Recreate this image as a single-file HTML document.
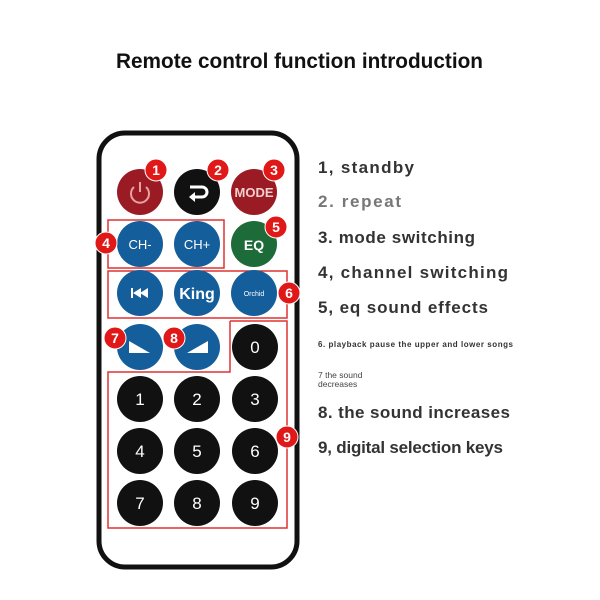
<!DOCTYPE html>
<html><head><meta charset="utf-8"><style>
body{margin:0;background:#fff;}
svg{display:block;font-family:"Liberation Sans",sans-serif;}
</style></head><body>
<svg width="600" height="600" viewBox="0 0 600 600" xmlns="http://www.w3.org/2000/svg">
<rect width="600" height="600" fill="#fff"/>
<text x="116" y="68" font-size="21" font-weight="bold" fill="#111" textLength="367" lengthAdjust="spacingAndGlyphs">Remote control function introduction</text>
<rect x="99" y="133" width="198" height="434" rx="26" fill="#fff" stroke="#111" stroke-width="5"/>
<g fill="none" stroke="#d33" stroke-width="1.5">
<rect x="108" y="220" width="116" height="48"/>
<rect x="108" y="271" width="179" height="47"/>
<polyline points="230,321 287,321 287,528 108,528 108,372 230,372 230,321"/>
</g>
<g>
<circle cx="140" cy="192" r="23" fill="#9b1b24"/>
<circle cx="197" cy="192" r="23" fill="#111"/>
<circle cx="254" cy="192" r="23" fill="#9b1b24"/>
<circle cx="140" cy="244" r="23" fill="#145e9b"/>
<circle cx="197" cy="244" r="23" fill="#145e9b"/>
<circle cx="254" cy="244" r="23" fill="#1e6b3a"/>
<circle cx="140" cy="293" r="23" fill="#145e9b"/>
<circle cx="197" cy="293" r="23" fill="#145e9b"/>
<circle cx="254" cy="293" r="23" fill="#145e9b"/>
<circle cx="140" cy="347" r="23" fill="#145e9b"/>
<circle cx="197" cy="347" r="23" fill="#145e9b"/>
<circle cx="255" cy="347" r="23" fill="#111"/>
<circle cx="140" cy="399" r="23" fill="#111"/>
<circle cx="197" cy="399" r="23" fill="#111"/>
<circle cx="255" cy="399" r="23" fill="#111"/>
<circle cx="140" cy="451" r="23" fill="#111"/>
<circle cx="197" cy="451" r="23" fill="#111"/>
<circle cx="255" cy="451" r="23" fill="#111"/>
<circle cx="140" cy="503" r="23" fill="#111"/>
<circle cx="197" cy="503" r="23" fill="#111"/>
<circle cx="255" cy="503" r="23" fill="#111"/>
</g>
<path d="M134,187 A9,9 0 1 0 146,187" fill="none" stroke="#e8a0a0" stroke-width="2"/>
<line x1="140" y1="182" x2="140" y2="192" stroke="#e8a0a0" stroke-width="2"/>
<path d="M190,187 H202 A5,5 0 0 1 202,197 H192" fill="none" stroke="#fff" stroke-width="3"/>
<polygon points="189,197 195,192 195,202" fill="#fff"/>
<polygon points="131,288 133,288 133,298 131,298" fill="#fff"/>
<polygon points="133,293 141,288 141,298" fill="#fff"/>
<polygon points="140,293 148,288 148,298" fill="#fff"/>
<polygon points="129,341 129,353 150,353" fill="#fff"/>
<polygon points="208,341 208,353 187,353" fill="#fff"/>
<g fill="#fff" text-anchor="middle" font-weight="bold">
<text x="254" y="197" font-size="13" fill="#f2d0d0">MODE</text>
<text x="140" y="249" font-size="13" font-weight="normal">CH-</text>
<text x="197" y="249" font-size="13" font-weight="normal">CH+</text>
<text x="254" y="250" font-size="14">EQ</text>
<text x="197" y="299" font-size="16">King</text>
<text x="254" y="296" font-size="7" font-weight="normal">Orchid</text>
</g>
<g fill="#fff" text-anchor="middle" font-size="17">
<text x="255" y="353">0</text>
<text x="140" y="405">1</text><text x="197" y="405">2</text><text x="255" y="405">3</text>
<text x="140" y="457">4</text><text x="197" y="457">5</text><text x="255" y="457">6</text>
<text x="140" y="509">7</text><text x="197" y="509">8</text><text x="255" y="509">9</text>
</g>
<g fill="#e01818" stroke="#fff" stroke-width="1">
<circle cx="156" cy="170" r="11"/><circle cx="218" cy="170" r="11"/><circle cx="274" cy="170" r="11"/>
<circle cx="106" cy="243" r="11"/><circle cx="276" cy="227" r="11"/><circle cx="289" cy="293" r="11"/>
<circle cx="115" cy="338" r="11"/><circle cx="174" cy="338" r="11"/><circle cx="287" cy="437" r="11"/>
</g>
<g fill="#fff" text-anchor="middle" font-size="14" font-weight="bold">
<text x="156" y="175">1</text><text x="218" y="175">2</text><text x="274" y="175">3</text>
<text x="106" y="248">4</text><text x="276" y="232">5</text><text x="289" y="298">6</text>
<text x="115" y="343">7</text><text x="174" y="343">8</text><text x="287" y="442">9</text>
</g>
<g font-size="17" font-weight="bold" fill="#333">
<text x="318" y="173" textLength="96">1, standby</text>
<text x="318" y="207" fill="#777" textLength="83">2. repeat</text>
<text x="318" y="243" textLength="157">3. mode switching</text>
<text x="318" y="278" textLength="190">4, channel switching</text>
<text x="318" y="313" textLength="170">5, eq sound effects</text>
<text x="318" y="418" textLength="192">8. the sound increases</text>
<text x="318" y="453" textLength="185">9, digital selection keys</text>
</g>
<text x="318" y="347" font-size="8" font-weight="bold" fill="#333" textLength="195">6. playback pause the upper and lower songs</text>
<text x="318" y="378" font-size="8.5" fill="#444">7 the sound</text>
<text x="318" y="387" font-size="8.5" fill="#444">decreases</text>
</svg>
</body></html>
